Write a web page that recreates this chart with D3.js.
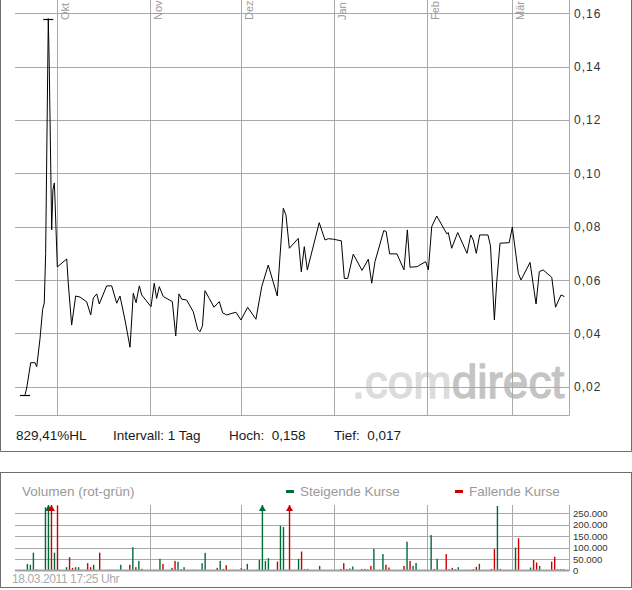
<!DOCTYPE html>
<html><head><meta charset="utf-8">
<script src="https://cdn.jsdelivr.net/npm/d3@7"></script>
<style>
body{margin:0;background:#fff;}
svg{display:block;font-family:"Liberation Sans",Arial,sans-serif;}
</style>
</head><body>
<svg id="c" width="632" height="590"></svg>
<script>
// ---------- data ----------
const monthDates = ["2010-10-01","2010-11-01","2010-12-01","2011-01-01","2011-02-01","2011-03-01"];
const monthLabels = ["Okt","Nov","Dez","Jan","Feb","Mär"];
const priceTicks = [0.02,0.04,0.06,0.08,0.10,0.12,0.14,0.16];
const priceTickLabels = ["0,02","0,04","0,06","0,08","0,10","0,12","0,14","0,16"];
const priceDates = [
"2010-09-20 12:00","2010-09-21 01:00","2010-09-22 09:00","2010-09-23 19:00","2010-09-24 09:00",
"2010-09-25 11:00","2010-09-26 08:00","2010-09-26 21:00","2010-09-27 08:00","2010-09-28 05:00",
"2010-09-28 12:00","2010-09-29 08:00","2010-09-29 18:00","2010-09-30 05:00","2010-09-30 10:00",
"2010-09-30 18:00","2010-10-01 05:00","2010-10-04 08:00","2010-10-04 20:00","2010-10-05 23:00",
"2010-10-07 07:00","2010-10-08 18:00","2010-10-10 23:00","2010-10-12 07:00","2010-10-13 04:00",
"2010-10-14 07:00","2010-10-15 03:00","2010-10-17 14:00","2010-10-19 06:00","2010-10-20 22:00",
"2010-10-22 00:00","2010-10-23 16:00","2010-10-25 08:00","2010-10-26 10:00","2010-10-27 08:00",
"2010-10-28 10:00","2010-10-29 05:00","2010-11-01 07:00","2010-11-02 09:00","2010-11-03 04:00",
"2010-11-04 01:00","2010-11-05 09:00","2010-11-08 09:00","2010-11-09 12:00","2010-11-10 14:00",
"2010-11-11 12:00","2010-11-13 03:00","2010-11-15 08:00","2010-11-16 19:00","2010-11-17 13:00",
"2010-11-18 09:00","2010-11-19 05:00","2010-11-20 15:00","2010-11-22 05:00","2010-11-23 23:00",
"2010-11-25 02:00","2010-11-26 10:00","2010-11-28 04:00","2010-11-29 12:00","2010-12-01 04:00",
"2010-12-03 09:00","2010-12-06 03:00","2010-12-08 01:00","2010-12-10 05:00","2010-12-13 05:00",
"2010-12-15 05:00","2010-12-16 02:00","2010-12-17 05:00","2010-12-20 04:00","2010-12-21 04:00",
"2010-12-22 04:00","2010-12-23 04:00","2010-12-27 03:00","2010-12-29 01:00","2010-12-30 03:00",
"2010-12-31 19:00","2011-01-03 11:00","2011-01-04 11:00","2011-01-05 14:00","2011-01-07 10:00",
"2011-01-10 08:00","2011-01-12 10:00","2011-01-13 13:00","2011-01-14 15:00","2011-01-17 13:00",
"2011-01-18 08:00","2011-01-19 12:00","2011-01-21 22:00","2011-01-24 06:00","2011-01-25 09:00",
"2011-01-26 06:00","2011-01-28 14:00","2011-01-31 11:00","2011-02-01 08:00","2011-02-02 11:00",
"2011-02-04 03:00","2011-02-07 11:00","2011-02-07 23:00","2011-02-09 02:00","2011-02-11 02:00",
"2011-02-14 04:00","2011-02-15 10:00","2011-02-16 06:00","2011-02-17 06:00","2011-02-18 09:00",
"2011-02-21 03:00","2011-02-21 23:00","2011-02-23 06:00","2011-02-24 01:00","2011-02-25 03:00",
"2011-02-28 04:00","2011-03-01 05:00","2011-03-03 05:00","2011-03-04 02:00","2011-03-07 02:00",
"2011-03-09 02:00","2011-03-10 04:00","2011-03-11 10:00","2011-03-14 07:00","2011-03-15 13:00",
"2011-03-17 09:00","2011-03-18 11:00"];
const priceValues = [
0.017,0.0195,0.029,0.029,0.0275,
0.038,0.049,0.0514,0.070,0.158,
0.142,0.0788,0.0938,0.0964,0.0908,
0.0799,0.0649,0.0679,0.0589,0.0431,
0.054,0.0536,0.0518,0.0469,0.0533,
0.0548,0.051,0.0578,0.0578,0.0513,
0.054,0.045,0.0348,0.055,0.0515,
0.0578,0.0544,0.050,0.0588,0.0531,
0.0575,0.0538,0.0519,0.039,0.0548,
0.0528,0.0525,0.0481,0.0415,0.0406,
0.0428,0.056,0.0531,0.0498,0.0519,
0.0477,0.0469,0.0475,0.0479,0.045,
0.0498,0.0453,0.0575,0.0656,0.054,
0.0869,0.0844,0.0719,0.0756,0.0631,
0.0725,0.0638,0.0815,0.075,0.0755,
0.0753,0.0747,0.0606,0.0606,0.0697,
0.0636,0.0678,0.0588,0.0669,0.0785,
0.0782,0.0698,0.0698,0.0638,0.0788,
0.0648,0.065,0.0669,0.0638,0.080,
0.084,0.0773,0.0778,0.0719,0.0778,
0.070,0.0769,0.075,0.070,0.0769,
0.0769,0.0728,0.045,0.0594,0.0738,
0.074,0.0798,0.0625,0.060,0.0666,
0.051,0.0631,0.0638,0.061,0.0498,
0.0544,0.0538];

const volDates = [
"2010-09-21","2010-09-22","2010-09-23","2010-09-24","2010-09-27","2010-09-28","2010-09-29","2010-09-30","2010-10-01",
"2010-10-04","2010-10-05","2010-10-06","2010-10-07","2010-10-08","2010-10-11","2010-10-12","2010-10-13","2010-10-15",
"2010-10-18","2010-10-19","2010-10-20","2010-10-21","2010-10-22","2010-10-25","2010-10-26","2010-10-27","2010-10-28","2010-10-29",
"2010-11-01","2010-11-02","2010-11-03","2010-11-04","2010-11-05","2010-11-08","2010-11-09","2010-11-10","2010-11-11","2010-11-12",
"2010-11-15","2010-11-16","2010-11-18","2010-11-19","2010-11-23","2010-11-24","2010-11-25","2010-11-26","2010-11-29","2010-11-30",
"2010-12-01","2010-12-02","2010-12-03","2010-12-06","2010-12-07","2010-12-08","2010-12-09","2010-12-10","2010-12-13","2010-12-14",
"2010-12-15","2010-12-16","2010-12-17","2010-12-20","2010-12-21","2010-12-22","2010-12-23","2010-12-27",
"2011-01-03","2011-01-04","2011-01-05","2011-01-06","2011-01-07","2011-01-10","2011-01-11","2011-01-12","2011-01-13","2011-01-14",
"2011-01-17","2011-01-18","2011-01-19","2011-01-24","2011-01-25","2011-01-26","2011-01-27","2011-01-28","2011-01-31",
"2011-02-02","2011-02-03","2011-02-04","2011-02-07","2011-02-08","2011-02-09","2011-02-10","2011-02-11","2011-02-15","2011-02-16",
"2011-02-17","2011-02-18","2011-02-22","2011-02-23","2011-02-24","2011-02-25","2011-02-28","2011-03-02","2011-03-03",
"2011-03-07","2011-03-08","2011-03-09","2011-03-10","2011-03-14","2011-03-15","2011-03-16","2011-03-17","2011-03-18"];
const volValues = [
29000,25000,78000,4000,276000,520000,410000,78000,284000,
14500,58000,11600,14500,14500,32000,14500,25000,78000,
3000,3000,3000,3000,25000,25000,102000,14500,42000,7000,
3000,3000,3000,51000,29000,11600,42000,38000,5800,14500,
3000,3000,32000,77000,11600,42000,7000,23000,3000,3000,
10000,5800,29000,3000,46000,480000,42000,54000,39000,195000,
190000,3000,450000,51000,83000,5800,7000,20000,
7000,32000,5800,8700,17400,7000,7000,5800,20000,94000,
72000,25000,13000,20000,126000,42000,20000,33000,3000,
155000,7000,51000,72000,5800,11600,5800,14500,3000,5800,
16000,29000,7000,94000,282000,7000,3000,100000,141000,
13000,46000,35000,20000,39000,60000,5800,5800,5800];
const volRising = [
1,1,1,0,1,1,0,1,0,
1,0,0,1,1,0,0,1,0,
1,1,0,0,1,0,1,0,1,0,
0,0,0,1,0,0,0,1,0,1,
0,0,1,1,0,1,0,0,1,1,
0,1,1,0,1,1,1,1,0,1,
1,0,0,1,0,0,0,1,
0,0,1,1,1,0,0,1,0,1,
1,0,0,0,1,0,1,1,1,
1,0,1,0,1,0,1,1,0,0,
0,1,0,0,1,1,1,1,0,
1,0,0,1,0,0,1,1,0];
const volTicks = [0,50000,100000,150000,200000,250000];
const volTickLabels = ["0","50.000","100.000","150.000","200.000","250.000"];
const infoTexts = ["829,41%HL","Intervall: 1 Tag","Hoch:  0,158","Tief:  0,017"];
const legendLabels = ["Steigende Kurse","Fallende Kurse"];
const volTitle = "Volumen (rot-grün)";
const stamp = "18.03.2011 17:25 Uhr";

// ---------- drawing ----------
const svg = d3.select("#c");
const parseT = d3.utcParse("%Y-%m-%d %H:%M");
const parseD = d3.utcParse("%Y-%m-%d");
const GRID = "#a9a9a9", FRAME = "#6e6e6e";
const GREEN = "#006b38", RED = "#cc0000";

const x = d3.scaleUtc().domain([parseD(monthDates[0]), parseD(monthDates[5])]).range([56.7, 511.7]);
const plotL = 15, plotR = 569.5;

// top panel frame
svg.append("path").attr("d", `M0.5,-2 V451.5 H631.5 V-2`).attr("fill","none").attr("stroke",FRAME);

// price chart
const y = d3.scaleLinear().domain([0.02,0.16]).range([386.7,13.3]);
const pTop = 0, pBot = 415;

// watermark
const wm = svg.append("text").attr("x",352).attr("y",398)
  .attr("font-size",46).attr("stroke-width",1.3);
wm.append("tspan").attr("fill","#dcdcdc").attr("stroke","#dcdcdc").text(".com");
wm.append("tspan").attr("fill","#c4c4c4").attr("stroke","#c4c4c4").text("direct");

// horizontal grid
svg.append("g").selectAll("line").data(priceTicks).join("line")
  .attr("x1",plotL).attr("x2",plotR).attr("y1",d=>Math.round(y(d))+0.5).attr("y2",d=>Math.round(y(d))+0.5)
  .attr("stroke",GRID);
svg.append("line").attr("x1",plotL).attr("x2",plotR).attr("y1",pBot+0.5).attr("y2",pBot+0.5).attr("stroke",GRID);
// vertical month grid
const months = monthDates.map(parseD);
svg.append("g").selectAll("line").data(months).join("line")
  .attr("x1",d=>Math.round(x(d))+0.5).attr("x2",d=>Math.round(x(d))+0.5).attr("y1",pTop).attr("y2",pBot)
  .attr("stroke",GRID);
svg.append("line").attr("x1",plotR).attr("x2",plotR).attr("y1",pTop).attr("y2",pBot+0.5).attr("stroke",GRID);
// month labels (rotated)
svg.append("g").selectAll("text").data(months).join("text")
  .attr("transform",d=>`translate(${Math.round(x(d))+12},20) rotate(-90)`)
  .attr("font-size",11).attr("fill","#999").text((d,i)=>monthLabels[i]);
// y labels
svg.append("g").selectAll("text").data(priceTicks).join("text")
  .attr("x",574).attr("y",d=>y(d)+4.5).attr("font-size",12).attr("letter-spacing",1).attr("fill","#333")
  .text((d,i)=>priceTickLabels[i]);

// price line
const pts = priceDates.map((d,i)=>({t:parseT(d), v:priceValues[i]}));
svg.append("path").datum(pts)
  .attr("d", d3.line().x(d=>x(d.t)).y(d=>y(d.v)))
  .attr("fill","none").attr("stroke","#000").attr("stroke-width",1);
// high / low markers
const hi = pts[d3.maxIndex(pts,d=>d.v)], lo = pts[d3.minIndex(pts,d=>d.v)];
[hi,lo].forEach(p=>{
  svg.append("line").attr("x1",x(p.t)-5).attr("x2",x(p.t)+5)
    .attr("y1",Math.round(y(p.v))+0.5).attr("y2",Math.round(y(p.v))+0.5)
    .attr("stroke","#000").attr("stroke-width",1.2);
});

// info text
const infoX = [16,113,229,334];
svg.append("g").selectAll("text").data(infoTexts).join("text")
  .attr("x",(d,i)=>infoX[i]).attr("y",439.5).attr("font-size",13.5).attr("fill","#1a1a1a")
  .style("white-space","pre").text(d=>d);

// ---------- volume panel ----------
svg.append("rect").attr("x",0.5).attr("y",472.5).attr("width",631).attr("height",115)
  .attr("fill","none").attr("stroke",FRAME);
svg.append("text").attr("x",22).attr("y",496).attr("font-size",13.5).attr("fill","#999").text(volTitle);
const legX = [286,455];
const legCol = [GREEN,RED];
legendLabels.forEach((l,i)=>{
  svg.append("rect").attr("x",legX[i]).attr("y",490).attr("width",8).attr("height",3).attr("fill",legCol[i]);
  svg.append("text").attr("x",legX[i]+14).attr("y",496).attr("font-size",13.5).attr("fill","#999").text(l);
});

const vy = d3.scaleLinear().domain([0,250000]).range([570.5,513.3]);
const vTop = 505;
svg.append("g").selectAll("line").data(volTicks.slice(1)).join("line")
  .attr("x1",plotL).attr("x2",plotR).attr("y1",d=>Math.round(vy(d))+0.5).attr("y2",d=>Math.round(vy(d))+0.5)
  .attr("stroke",GRID);
svg.append("g").selectAll("line").data(months).join("line")
  .attr("x1",d=>Math.round(x(d))+0.5).attr("x2",d=>Math.round(x(d))+0.5).attr("y1",vTop).attr("y2",570)
  .attr("stroke",GRID);
svg.append("line").attr("x1",plotR).attr("x2",plotR).attr("y1",vTop).attr("y2",571).attr("stroke",GRID);
svg.append("g").selectAll("text").data(volTicks).join("text")
  .attr("x",573).attr("y",d=>vy(d)+3.5).attr("font-size",9.6).attr("fill","#333")
  .text((d,i)=>volTickLabels[i]);
svg.append("text").attr("x",12).attr("y",583).attr("font-size",12).attr("letter-spacing",-0.4)
  .attr("fill","#aaa").text(stamp);

const vmax = vy.invert(vTop);
const bars = volDates.map((d,i)=>({t:parseD(d), v:volValues[i], up:volRising[i]}));
const bx = d => x(d.t) + 0.8;
svg.append("g").selectAll("rect").data(bars).join("rect")
  .attr("x",d=>bx(d)-0.7).attr("width",1.4)
  .attr("y",d=>vy(Math.min(d.v,vmax))).attr("height",d=>vy(0)-vy(Math.min(d.v,vmax)))
  .attr("fill",d=>d.up?GREEN:RED);
svg.append("g").selectAll("path").data(bars.filter(d=>d.v>vmax)).join("path")
  .attr("d",d=>`M${bx(d)-3.5},${vTop+6}L${bx(d)+3.5},${vTop+6}L${bx(d)},${vTop}Z`)
  .attr("fill",d=>d.up?GREEN:RED);
// baseline
svg.append("line").attr("x1",plotL).attr("x2",plotR).attr("y1",570.5).attr("y2",570.5)
  .attr("stroke","#a0a0a0").attr("stroke-width",2);
</script>
</body></html>
